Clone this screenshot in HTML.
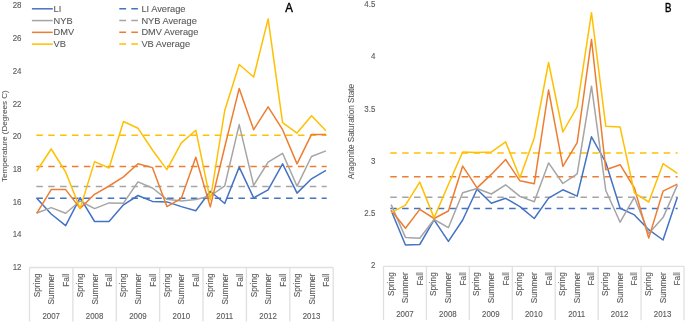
<!DOCTYPE html>
<html><head><meta charset="utf-8"><style>
html,body{margin:0;padding:0;background:#fff;}
body{width:685px;height:323px;overflow:hidden;}
svg{display:block;will-change:transform;}
text{font-family:"Liberation Sans",sans-serif;fill:#595959;stroke:#595959;stroke-width:0.12px;}
.yl{font-size:9px;}
.cat{font-size:8.25px;}
.yr{font-size:9px;}
.yt{font-size:8px;stroke-width:0.08px;}
.lg{font-size:9.6px;stroke-width:0.1px;}
.pl{font-size:12.7px;fill:#000;stroke:#000;stroke-width:0.45px;}
</style></head><body>
<svg width="685" height="323" viewBox="0 0 685 323">
<rect width="685" height="323" fill="#fff"/>
<text class="yl" transform="translate(21.5 270.1) scale(0.88 1)" text-anchor="end">12</text>
<text class="yl" transform="translate(21.5 237.38) scale(0.88 1)" text-anchor="end">14</text>
<text class="yl" transform="translate(21.5 204.66) scale(0.88 1)" text-anchor="end">16</text>
<text class="yl" transform="translate(21.5 171.94) scale(0.88 1)" text-anchor="end">18</text>
<text class="yl" transform="translate(21.5 139.22) scale(0.88 1)" text-anchor="end">20</text>
<text class="yl" transform="translate(21.5 106.5) scale(0.88 1)" text-anchor="end">22</text>
<text class="yl" transform="translate(21.5 73.78) scale(0.88 1)" text-anchor="end">24</text>
<text class="yl" transform="translate(21.5 41.06) scale(0.88 1)" text-anchor="end">26</text>
<text class="yl" transform="translate(21.5 8.34) scale(0.88 1)" text-anchor="end">28</text>
<text class="yt" transform="translate(6.8 136.1) rotate(-90)" text-anchor="middle" style="font-size:8.1px">Temperature (Degrees C)</text>
<text class="yl" transform="translate(375.3 268.4) scale(0.88 1)" text-anchor="end">2</text>
<text class="yl" transform="translate(375.3 216.13) scale(0.88 1)" text-anchor="end">2.5</text>
<text class="yl" transform="translate(375.3 163.86) scale(0.88 1)" text-anchor="end">3</text>
<text class="yl" transform="translate(375.3 111.59) scale(0.88 1)" text-anchor="end">3.5</text>
<text class="yl" transform="translate(375.3 59.32) scale(0.88 1)" text-anchor="end">4</text>
<text class="yl" transform="translate(375.3 7.05) scale(0.88 1)" text-anchor="end">4.5</text>
<text class="yt" transform="translate(354.0 131.6) rotate(-90)" text-anchor="middle" style="font-size:8.15px">Aragonite Saturation State</text>
<path d="M29.5 267.5H333.2" stroke="#E0E0E0" stroke-width="1.3" fill="none"/>
<path d="M29.5 267.5V321.5" stroke="#E0E0E0" stroke-width="1.3" fill="none"/>
<path d="M72.89 267.5V321.5" stroke="#E0E0E0" stroke-width="1.3" fill="none"/>
<path d="M116.27 267.5V321.5" stroke="#E0E0E0" stroke-width="1.3" fill="none"/>
<path d="M159.66 267.5V321.5" stroke="#E0E0E0" stroke-width="1.3" fill="none"/>
<path d="M203.04 267.5V321.5" stroke="#E0E0E0" stroke-width="1.3" fill="none"/>
<path d="M246.43 267.5V321.5" stroke="#E0E0E0" stroke-width="1.3" fill="none"/>
<path d="M289.81 267.5V321.5" stroke="#E0E0E0" stroke-width="1.3" fill="none"/>
<path d="M333.2 267.5V321.5" stroke="#E0E0E0" stroke-width="1.3" fill="none"/>
<text class="cat" transform="translate(39.63 273.4) rotate(-90)" text-anchor="end">Spring</text>
<text class="cat" transform="translate(54.29 273.4) rotate(-90)" text-anchor="end">Summer</text>
<text class="cat" transform="translate(69.1 273.4) rotate(-90)" text-anchor="end">Fall</text>
<text class="cat" transform="translate(83.02 273.4) rotate(-90)" text-anchor="end">Spring</text>
<text class="cat" transform="translate(97.68 273.4) rotate(-90)" text-anchor="end">Summer</text>
<text class="cat" transform="translate(112.49 273.4) rotate(-90)" text-anchor="end">Fall</text>
<text class="cat" transform="translate(126.4 273.4) rotate(-90)" text-anchor="end">Spring</text>
<text class="cat" transform="translate(141.06 273.4) rotate(-90)" text-anchor="end">Summer</text>
<text class="cat" transform="translate(155.88 273.4) rotate(-90)" text-anchor="end">Fall</text>
<text class="cat" transform="translate(169.79 273.4) rotate(-90)" text-anchor="end">Spring</text>
<text class="cat" transform="translate(184.45 273.4) rotate(-90)" text-anchor="end">Summer</text>
<text class="cat" transform="translate(199.26 273.4) rotate(-90)" text-anchor="end">Fall</text>
<text class="cat" transform="translate(213.17 273.4) rotate(-90)" text-anchor="end">Spring</text>
<text class="cat" transform="translate(227.84 273.4) rotate(-90)" text-anchor="end">Summer</text>
<text class="cat" transform="translate(242.65 273.4) rotate(-90)" text-anchor="end">Fall</text>
<text class="cat" transform="translate(256.56 273.4) rotate(-90)" text-anchor="end">Spring</text>
<text class="cat" transform="translate(271.22 273.4) rotate(-90)" text-anchor="end">Summer</text>
<text class="cat" transform="translate(286.03 273.4) rotate(-90)" text-anchor="end">Fall</text>
<text class="cat" transform="translate(299.95 273.4) rotate(-90)" text-anchor="end">Spring</text>
<text class="cat" transform="translate(314.61 273.4) rotate(-90)" text-anchor="end">Summer</text>
<text class="cat" transform="translate(329.42 273.4) rotate(-90)" text-anchor="end">Fall</text>
<text class="yr" transform="translate(51.19 318.6) scale(0.88 1)" text-anchor="middle">2007</text>
<text class="yr" transform="translate(94.58 318.6) scale(0.88 1)" text-anchor="middle">2008</text>
<text class="yr" transform="translate(137.96 318.6) scale(0.88 1)" text-anchor="middle">2009</text>
<text class="yr" transform="translate(181.35 318.6) scale(0.88 1)" text-anchor="middle">2010</text>
<text class="yr" transform="translate(224.74 318.6) scale(0.88 1)" text-anchor="middle">2011</text>
<text class="yr" transform="translate(268.12 318.6) scale(0.88 1)" text-anchor="middle">2012</text>
<text class="yr" transform="translate(311.51 318.6) scale(0.88 1)" text-anchor="middle">2013</text>
<path d="M36.33 198.2H326.72" stroke="#4472C4" stroke-width="1.5" stroke-dasharray="6.5 5.39" fill="none"/>
<path d="M36.33 186.6H326.72" stroke="#A5A5A5" stroke-width="1.5" stroke-dasharray="6.5 5.39" fill="none"/>
<path d="M36.33 166.4H326.72" stroke="#ED7D31" stroke-width="1.5" stroke-dasharray="6.5 5.39" fill="none"/>
<path d="M36.33 135.3H326.72" stroke="#FFC000" stroke-width="1.5" stroke-dasharray="6.5 5.39" fill="none"/>
<polyline points="36.73,198.3 51.19,214 65.65,225.7 80.12,197.7 94.58,221.5 109.04,221.5 123.5,204.8 137.96,195.5 152.43,201.4 166.89,201.9 181.35,206.6 195.81,210.8 210.27,191.3 224.74,203.5 239.2,167.1 253.66,197.9 268.12,189.9 282.58,163.9 297.05,193.1 311.51,178.8 325.97,170.4" stroke="#4472C4" stroke-width="1.5" fill="none" stroke-linejoin="round"/>
<polyline points="36.73,213 51.19,207.6 65.65,213.3 80.12,201 94.58,208.6 109.04,202.9 123.5,203.2 137.96,181.9 152.43,188 166.89,199.3 181.35,201 195.81,199.5 210.27,196 224.74,185.8 239.2,124.6 253.66,185.3 268.12,162.1 282.58,153.3 297.05,186.2 311.51,156.5 325.97,150.9" stroke="#A5A5A5" stroke-width="1.5" fill="none" stroke-linejoin="round"/>
<polyline points="36.73,213.3 51.19,189.6 65.65,189.6 80.12,208.4 94.58,194.3 109.04,186 123.5,176.9 137.96,163.7 152.43,167.6 166.89,206.6 181.35,198.3 195.81,157.2 210.27,206.9 224.74,147 239.2,88.4 253.66,129.7 268.12,106.8 282.58,129.7 297.05,163.9 311.51,134.4 325.97,134.4" stroke="#ED7D31" stroke-width="1.5" fill="none" stroke-linejoin="round"/>
<polyline points="36.73,171 51.19,149 65.65,172 80.12,208.6 94.58,161.6 109.04,168 123.5,121.5 137.96,128.2 152.43,150 166.89,169.6 181.35,142.9 195.81,130.2 210.27,200 224.74,110.5 239.2,64.5 253.66,77 268.12,18.9 282.58,122.7 297.05,133.1 311.51,115.8 325.97,130.7" stroke="#FFC000" stroke-width="1.5" fill="none" stroke-linejoin="round"/>
<path d="M383.5 266.3H684" stroke="#E0E0E0" stroke-width="1.3" fill="none"/>
<path d="M383.5 266.3V320.2" stroke="#E0E0E0" stroke-width="1.3" fill="none"/>
<path d="M426.43 266.3V320.2" stroke="#E0E0E0" stroke-width="1.3" fill="none"/>
<path d="M469.36 266.3V320.2" stroke="#E0E0E0" stroke-width="1.3" fill="none"/>
<path d="M512.29 266.3V320.2" stroke="#E0E0E0" stroke-width="1.3" fill="none"/>
<path d="M555.21 266.3V320.2" stroke="#E0E0E0" stroke-width="1.3" fill="none"/>
<path d="M598.14 266.3V320.2" stroke="#E0E0E0" stroke-width="1.3" fill="none"/>
<path d="M641.07 266.3V320.2" stroke="#E0E0E0" stroke-width="1.3" fill="none"/>
<path d="M684 266.3V320.2" stroke="#E0E0E0" stroke-width="1.3" fill="none"/>
<text class="cat" transform="translate(393.55 272.2) rotate(-90)" text-anchor="end">Spring</text>
<text class="cat" transform="translate(408.06 272.2) rotate(-90)" text-anchor="end">Summer</text>
<text class="cat" transform="translate(422.72 272.2) rotate(-90)" text-anchor="end">Fall</text>
<text class="cat" transform="translate(436.48 272.2) rotate(-90)" text-anchor="end">Spring</text>
<text class="cat" transform="translate(450.99 272.2) rotate(-90)" text-anchor="end">Summer</text>
<text class="cat" transform="translate(465.65 272.2) rotate(-90)" text-anchor="end">Fall</text>
<text class="cat" transform="translate(479.41 272.2) rotate(-90)" text-anchor="end">Spring</text>
<text class="cat" transform="translate(493.92 272.2) rotate(-90)" text-anchor="end">Summer</text>
<text class="cat" transform="translate(508.58 272.2) rotate(-90)" text-anchor="end">Fall</text>
<text class="cat" transform="translate(522.34 272.2) rotate(-90)" text-anchor="end">Spring</text>
<text class="cat" transform="translate(536.85 272.2) rotate(-90)" text-anchor="end">Summer</text>
<text class="cat" transform="translate(551.51 272.2) rotate(-90)" text-anchor="end">Fall</text>
<text class="cat" transform="translate(565.27 272.2) rotate(-90)" text-anchor="end">Spring</text>
<text class="cat" transform="translate(579.78 272.2) rotate(-90)" text-anchor="end">Summer</text>
<text class="cat" transform="translate(594.44 272.2) rotate(-90)" text-anchor="end">Fall</text>
<text class="cat" transform="translate(608.2 272.2) rotate(-90)" text-anchor="end">Spring</text>
<text class="cat" transform="translate(622.71 272.2) rotate(-90)" text-anchor="end">Summer</text>
<text class="cat" transform="translate(637.37 272.2) rotate(-90)" text-anchor="end">Fall</text>
<text class="cat" transform="translate(651.13 272.2) rotate(-90)" text-anchor="end">Spring</text>
<text class="cat" transform="translate(665.64 272.2) rotate(-90)" text-anchor="end">Summer</text>
<text class="cat" transform="translate(680.3 272.2) rotate(-90)" text-anchor="end">Fall</text>
<text class="yr" transform="translate(404.96 317.1) scale(0.88 1)" text-anchor="middle">2007</text>
<text class="yr" transform="translate(447.89 317.1) scale(0.88 1)" text-anchor="middle">2008</text>
<text class="yr" transform="translate(490.82 317.1) scale(0.88 1)" text-anchor="middle">2009</text>
<text class="yr" transform="translate(533.75 317.1) scale(0.88 1)" text-anchor="middle">2010</text>
<text class="yr" transform="translate(576.68 317.1) scale(0.88 1)" text-anchor="middle">2011</text>
<text class="yr" transform="translate(619.61 317.1) scale(0.88 1)" text-anchor="middle">2012</text>
<text class="yr" transform="translate(662.54 317.1) scale(0.88 1)" text-anchor="middle">2013</text>
<path d="M390.25 208.5H677.6" stroke="#4472C4" stroke-width="1.5" stroke-dasharray="6.5 5.39" fill="none"/>
<path d="M390.25 197.2H677.6" stroke="#A5A5A5" stroke-width="1.5" stroke-dasharray="6.5 5.39" fill="none"/>
<path d="M390.25 176.8H677.6" stroke="#ED7D31" stroke-width="1.5" stroke-dasharray="6.5 5.39" fill="none"/>
<path d="M390.25 152.9H677.6" stroke="#FFC000" stroke-width="1.5" stroke-dasharray="6.5 5.39" fill="none"/>
<polyline points="391.15,210.5 405.46,245 419.77,244.5 434.08,219.8 448.39,241.4 462.7,220 477.01,189.3 491.32,203.2 505.63,198.3 519.94,206.6 534.25,218.5 548.56,198.1 562.87,189.8 577.18,196.1 591.49,136.8 605.8,162.5 620.11,208.3 634.42,214.9 648.73,229.7 663.04,240 677.35,197.2" stroke="#4472C4" stroke-width="1.5" fill="none" stroke-linejoin="round"/>
<polyline points="391.15,204.6 405.46,237.4 419.77,238.3 434.08,219.5 448.39,227.7 462.7,192.8 477.01,188.5 491.32,194 505.63,184.8 519.94,196.4 534.25,201.8 548.56,162.9 562.87,183.5 577.18,173.8 591.49,86.2 605.8,190.5 620.11,222.2 634.42,197.2 648.73,233.4 663.04,217.6 677.35,185.1" stroke="#A5A5A5" stroke-width="1.5" fill="none" stroke-linejoin="round"/>
<polyline points="391.15,210.3 405.46,228.2 419.77,209.4 434.08,218.5 448.39,211 462.7,166.1 477.01,187.9 491.32,174.4 505.63,159.5 519.94,180.8 534.25,183.8 548.56,90 562.87,166.4 577.18,142.7 591.49,39.4 605.8,169.7 620.11,164.7 634.42,188 648.73,238.1 663.04,191.2 677.35,184.2" stroke="#ED7D31" stroke-width="1.5" fill="none" stroke-linejoin="round"/>
<polyline points="391.15,212.6 405.46,205.2 419.77,182.1 434.08,217.9 448.39,184.5 462.7,152 477.01,152.6 491.32,152.1 505.63,141.9 519.94,177.8 534.25,137.9 548.56,62.5 562.87,132 577.18,106.8 591.49,12.7 605.8,126.3 620.11,127.1 634.42,192.9 648.73,202 663.04,163.7 677.35,173.4" stroke="#FFC000" stroke-width="1.5" fill="none" stroke-linejoin="round"/>
<text class="pl" transform="translate(285.2 12) scale(0.9 1)">A</text>
<text class="pl" transform="translate(665.0 11.8) scale(0.76 1)">B</text>
<path d="M31.9 8.8H52.8" stroke="#4472C4" stroke-width="1.5" fill="none"/>
<text class="lg" transform="translate(53.6 11.9) scale(0.965 1)">LI</text>
<path d="M119.3 8.8H126.1M131.3 8.8H137.9" stroke="#4472C4" stroke-width="1.5" fill="none"/>
<text class="lg" transform="translate(141.4 11.9) scale(0.965 1)">LI Average</text>
<path d="M31.9 20.57H52.8" stroke="#A5A5A5" stroke-width="1.5" fill="none"/>
<text class="lg" transform="translate(53.6 23.67) scale(0.965 1)">NYB</text>
<path d="M119.3 20.57H126.1M131.3 20.57H137.9" stroke="#A5A5A5" stroke-width="1.5" fill="none"/>
<text class="lg" transform="translate(141.4 23.67) scale(0.965 1)">NYB Average</text>
<path d="M31.9 32.34H52.8" stroke="#ED7D31" stroke-width="1.5" fill="none"/>
<text class="lg" transform="translate(53.6 35.44) scale(0.965 1)">DMV</text>
<path d="M119.3 32.34H126.1M131.3 32.34H137.9" stroke="#ED7D31" stroke-width="1.5" fill="none"/>
<text class="lg" transform="translate(141.4 35.44) scale(0.965 1)">DMV Average</text>
<path d="M31.9 44.11H52.8" stroke="#FFC000" stroke-width="1.5" fill="none"/>
<text class="lg" transform="translate(53.6 47.21) scale(0.965 1)">VB</text>
<path d="M119.3 44.11H126.1M131.3 44.11H137.9" stroke="#FFC000" stroke-width="1.5" fill="none"/>
<text class="lg" transform="translate(141.4 47.21) scale(0.965 1)">VB Average</text>
</svg>
</body></html>
